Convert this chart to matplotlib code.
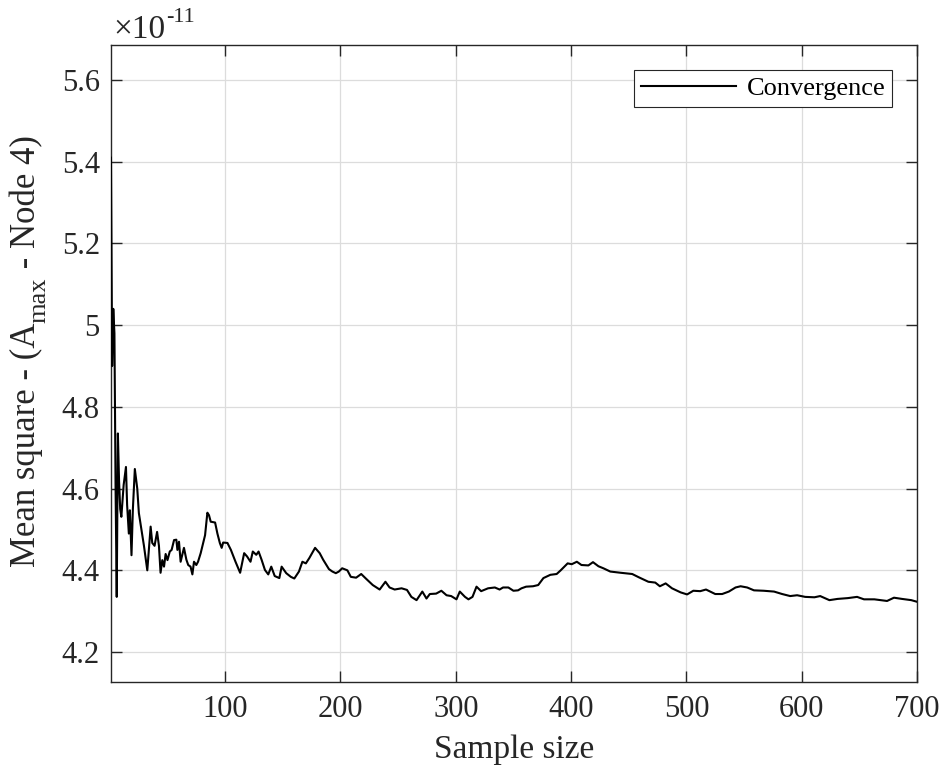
"""Convergence of the mean square of A_max at node 4 versus sample size."""

import matplotlib
matplotlib.use("Agg")
import matplotlib.pyplot as plt
from matplotlib.ticker import FuncFormatter

plt.rcParams["font.family"] = ["Liberation Serif", "DejaVu Serif"]

# ── Data (values in units of 1e-11) ──────────────────────────────────────────
SCALE = 1e-11

sample_size = [
    1, 2, 3, 4, 5, 6, 7, 8, 9, 10, 12, 14, 15, 16.5, 17.4, 18.8, 20, 21.7,
    23.8, 25.2, 27.5, 29.6, 32.5, 35.4, 36.8, 38.8, 41, 42.6, 44, 45.5, 47,
    48.4, 50, 52, 53.6, 55.7, 57.7, 58.6, 60, 61.4, 64.3, 66.4, 68, 70, 71.6,
    73, 75, 76.5, 78.8, 81, 82.6, 84.6, 86, 87.5, 91.3, 93.3, 95.4, 97, 98.3,
    102, 105, 109, 113, 116.5, 119, 122, 124, 127, 129, 131.6, 134.5, 137.4,
    140, 143, 147, 149, 153, 157, 160, 164, 167, 170, 173, 178, 182, 185,
    190, 193, 196, 198.6, 201.5, 206, 209, 213.6, 218, 222, 228, 234, 239,
    242.6, 247, 253, 257.7, 261.5, 266, 271, 274.6, 277.5, 283, 287.5, 292,
    296, 300.6, 303.5, 308, 311, 314.5, 318, 322, 328, 333.9, 338, 341,
    345.6, 350, 354, 357, 361, 367, 371.5, 376, 382, 387.5, 391, 397, 400.6,
    405, 409, 415, 419, 423.7, 428, 434, 443, 453, 458.7, 467, 473, 477, 482,
    487.5, 495, 500.6, 506, 512, 517, 525, 531, 536.8, 542.6, 547, 552.7,
    558.6, 567, 576, 583, 590, 596, 603, 611, 616, 624, 631, 640, 648, 654,
    663, 674, 680, 687, 695, 700,
]

mean_square = [
    5.41, 4.90, 5.04, 4.98, 4.60, 4.335, 4.735, 4.62, 4.55, 4.531, 4.609,
    4.653, 4.56, 4.49, 4.547, 4.437, 4.55, 4.648, 4.60, 4.54, 4.499, 4.46,
    4.40, 4.507, 4.467, 4.46, 4.494, 4.46, 4.394, 4.425, 4.409, 4.44, 4.425,
    4.446, 4.45, 4.474, 4.475, 4.45, 4.47, 4.421, 4.455, 4.426, 4.413, 4.409,
    4.39, 4.421, 4.413, 4.421, 4.442, 4.467, 4.486, 4.541, 4.535, 4.519,
    4.517, 4.49, 4.467, 4.455, 4.468, 4.467, 4.45, 4.421, 4.394, 4.442,
    4.434, 4.421, 4.446, 4.438, 4.446, 4.426, 4.401, 4.39, 4.409, 4.386,
    4.381, 4.409, 4.393, 4.384, 4.38, 4.397, 4.421, 4.417, 4.43, 4.455,
    4.442, 4.426, 4.403, 4.397, 4.393, 4.397, 4.405, 4.40, 4.384, 4.382,
    4.391, 4.38, 4.364, 4.353, 4.372, 4.358, 4.353, 4.356, 4.352, 4.335,
    4.327, 4.348, 4.331, 4.342, 4.343, 4.35, 4.339, 4.337, 4.329, 4.348,
    4.335, 4.329, 4.335, 4.36, 4.349, 4.356, 4.358, 4.353, 4.358, 4.358,
    4.35, 4.351, 4.356, 4.36, 4.361, 4.364, 4.381, 4.389, 4.391, 4.40,
    4.417, 4.415, 4.421, 4.413, 4.412, 4.42, 4.41, 4.405, 4.397, 4.394,
    4.391, 4.383, 4.372, 4.37, 4.361, 4.368, 4.356, 4.346, 4.341, 4.35,
    4.349, 4.353, 4.342, 4.342, 4.348, 4.358, 4.361, 4.358, 4.351, 4.35,
    4.348, 4.342, 4.337, 4.339, 4.335, 4.334, 4.337, 4.327, 4.33, 4.332,
    4.335, 4.329, 4.329, 4.325, 4.333, 4.33, 4.327, 4.323,
]

x_ticks = [100, 200, 300, 400, 500, 600, 700]
y_ticks = [4.2, 4.4, 4.6, 4.8, 5.0, 5.2, 5.4, 5.6]

TEXT_COLOR = "#262626"
FIG_W, FIG_H = 942, 771

# ── Figure ───────────────────────────────────────────────────────────────────
fig = plt.figure(figsize=(FIG_W / 100, FIG_H / 100), dpi=100)
ax = fig.add_axes([0.1178, 0.1154, 0.8557, 0.8262])

ax.plot(sample_size, [v * SCALE for v in mean_square],
        color="black", linewidth=1.5, label="Convergence", zorder=3)

ax.set_xlim(1, 700)
ax.set_ylim(4.1266 * SCALE, 5.6857 * SCALE)
ax.set_xticks(x_ticks)
ax.set_yticks([v * SCALE for v in y_ticks])
ax.yaxis.set_major_formatter(FuncFormatter(lambda v, _: f"{v / SCALE:g}"))

ax.tick_params(direction="in", length=8, width=1.0, top=True, right=True,
               labelsize=22, colors=TEXT_COLOR)
ax.tick_params(axis="x", pad=9)
ax.tick_params(axis="y", pad=8)
for side in ("left", "right", "top", "bottom"):
    ax.spines[side].set_color(TEXT_COLOR)
    ax.spines[side].set_linewidth(1.0)

ax.grid(True, color="#dcdcdc", linewidth=0.9, zorder=0)

ax.set_xlabel("Sample size", fontsize=24, color=TEXT_COLOR, labelpad=8)

# y label built in pieces so the "max" subscript keeps MATLAB's proportions
fig.canvas.draw()
renderer = fig.canvas.get_renderer()
label_parts = [
    ("Mean square - (A", 25, 0),
    ("max", 19, 10),
    (" - Node 4)", 25, 0),
]
base_x = 35          # baseline column in pixels
cursor_y = 567       # bottom of the label in pixels (from top)
for text, size, shift in label_parts:
    t = fig.text((base_x + shift) / FIG_W, 1 - cursor_y / FIG_H, text,
                 rotation=90, rotation_mode="anchor", ha="left",
                 va="baseline", fontsize=size, color=TEXT_COLOR)
    bb = t.get_window_extent(renderer)
    cursor_y -= bb.height

# MATLAB-style exponent label above the y axis
exp_base = fig.text(113 / FIG_W, 1 - 38 / FIG_H, "\u00d710", fontsize=24,
                    color=TEXT_COLOR, ha="left", va="baseline")
bb = exp_base.get_window_extent(renderer)
fig.text((bb.x1 + 1) / FIG_W, 1 - 22 / FIG_H, "-11", fontsize=16,
         color=TEXT_COLOR, ha="left", va="baseline")

leg = ax.legend(loc="upper right", fontsize=19, fancybox=False,
                framealpha=1, edgecolor=TEXT_COLOR, borderaxespad=0.95,
                handlelength=3.6, handletextpad=0.4, borderpad=0.25)
leg.get_frame().set_linewidth(0.8)

fig.savefig("out.png", dpi=100)
